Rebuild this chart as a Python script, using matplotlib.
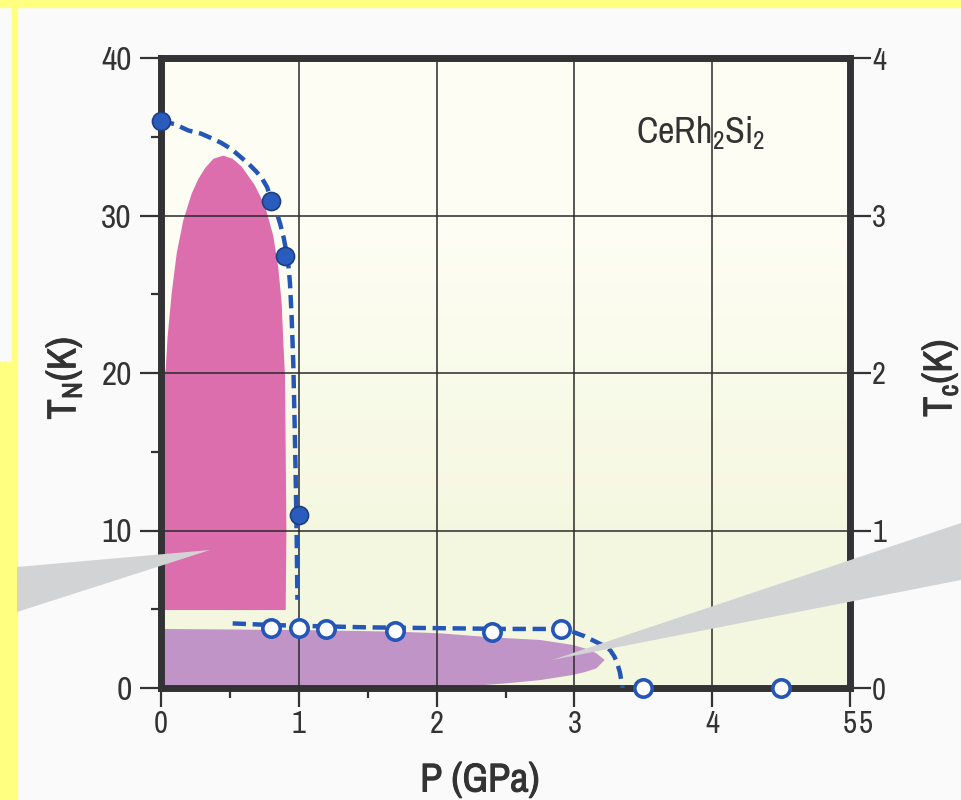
import numpy as np
import matplotlib
matplotlib.use('Agg')
import matplotlib.pyplot as plt
import matplotlib.patheffects as pe
from matplotlib import font_manager
from matplotlib.patches import Polygon, Rectangle

# DATA ########################################
# Neel temperature T_N (left axis, K)
tn_p = [0.0, 0.8, 0.9, 1.0]
tn_t = [36.0, 30.9, 27.4, 11.0]
# guide line for T_N
tn_line_p = [0.0, 0.10, 0.198, 0.29, 0.368, 0.44, 0.513, 0.58, 0.634, 0.69, 0.73, 0.77,
             0.80, 0.835, 0.864, 0.89, 0.912, 0.926, 0.936, 0.948, 0.96, 0.968,
             0.976, 0.984, 0.99]
tn_line_t = [36.0, 35.8, 35.4, 35.2, 34.9, 34.6, 34.2, 33.7, 33.3, 32.8, 32.4, 31.8,
             31.0, 30.3, 29.5, 28.6, 27.6, 26.7, 25.7, 23.6, 20.6, 17.5,
             14.0, 10.0, 5.6]

# superconducting T_c (right axis, K)
tc_p = [0.8, 1.0, 1.2, 1.7, 2.4, 2.9, 3.5, 4.5]
tc_t = [0.38, 0.38, 0.375, 0.36, 0.355, 0.375, 0.0, 0.0]
tc_line_p = [0.52, 0.8, 1.0, 1.5, 2.0, 2.5, 2.9, 2.99, 3.07, 3.14, 3.21, 3.26, 3.29,
             3.31, 3.33, 3.35]
tc_line_t = [0.41, 0.40, 0.395, 0.385, 0.38, 0.375, 0.375, 0.356, 0.33, 0.30, 0.27,
             0.24, 0.20, 0.16, 0.10, 0.0]

# shaded regions (P in GPa, T in K on left axis)
afm_p = [0.0, 0.0, 0.02, 0.034, 0.048, 0.078, 0.114, 0.162, 0.223, 0.27, 0.319, 0.38,
         0.452, 0.52, 0.586, 0.682, 0.755, 0.815, 0.851, 0.876, 0.888, 0.90, 0.91,
         0.905, 0.0]
afm_t = [4.95, 19.0, 19.8, 20.2, 22.3, 25.1, 27.6, 29.7, 31.4, 32.3, 33.0, 33.6,
         33.8, 33.6, 33.1, 31.9, 30.6, 28.7, 26.7, 24.4, 21.9, 19.8, 10.0,
         4.95, 4.95]
sc_p = [0.0, 1.0, 1.7, 2.03, 2.39, 2.75, 2.99, 3.10, 3.16, 3.22, 3.16, 3.08, 2.99,
        2.75, 2.51, 2.26, 2.0, 0.0]
sc_t = [3.75, 3.68, 3.58, 3.47, 3.22, 3.05, 2.73, 2.45, 2.2, 1.78, 1.25, 1.02, 0.83,
        0.5, 0.3, 0.13, 0.0, 0.0]

x_ticks = [0, 1, 2, 3, 4, 5]
x_ticklabels = ['0', '1', '2', '3', '4', '5']
yl_ticks = [0, 10, 20, 30, 40]
yr_ticks = [0, 1, 2, 3, 4]
compound = 'CeRh$_2$Si$_2$'

# STYLE ########################################
# look for a narrow face, the slide uses a condensed grotesque
names = sorted({f.name for f in font_manager.fontManager.ttflist})
narrow = [n for n in names if 'Narrow' in n or 'Condensed' in n]
main_font = narrow[0] if narrow else 'DejaVu Sans'

plt.rcParams['font.family'] = [main_font, 'DejaVu Sans']
plt.rcParams['font.stretch'] = 'condensed'
plt.rcParams['mathtext.fontset'] = 'custom'
plt.rcParams['mathtext.rm'] = main_font
plt.rcParams['mathtext.bf'] = main_font + ':bold'
plt.rcParams['mathtext.default'] = 'regular'

yellow = '#ffff80'
panel = '#fafafa'
wedge = '#d2d3d5'
frame = '#333335'
txt = '#333333'
blue = '#2456b8'
magenta = '#dc6eae'
purple = '#c094c6'

# slight extra weight for the axis titles
heavy = [pe.withStroke(linewidth=0.7, foreground=txt)]

W, H = 961, 800
fig = plt.figure(figsize=(W / 100, H / 100), dpi=100, facecolor=panel)

# yellow slide border pieces (figure pixels, y from top)
def px_rect(x0, y0, x1, y1, color):
    fig.patches.append(Rectangle((x0 / W, 1 - y1 / H), (x1 - x0) / W, (y1 - y0) / H,
                                 transform=fig.transFigure, color=color, zorder=0))

px_rect(0, 0, W, 7, yellow)
px_rect(12, 0, 17, 362, yellow)
px_rect(0, 362, 17, H, yellow)

ax = fig.add_axes([161 / W, 1 - 688 / H, (850 - 161) / W, (688 - 58) / H])
ax.set_xlim(0, 5)
ax.set_ylim(0, 40)

# faint gradient background of the plot area
bg = np.array([[[0.996, 0.996, 0.960]], [[0.960, 0.972, 0.880]]])
ax.imshow(bg, extent=[0, 5, 0, 40], aspect='auto', interpolation='bilinear',
          origin='upper', zorder=0)

ax.fill(afm_p, afm_t, color=magenta, lw=0, zorder=0.8)
ax.fill(sc_p, sc_t, color=purple, lw=0, zorder=0.8)

ax.grid(True, color='#2a2a2a', lw=1.1)
ax.set_axisbelow('line')

for s in ax.spines.values():
    s.set_linewidth(5)
    s.set_color(frame)

ax.set_xticks(x_ticks)
ax.set_xticklabels(x_ticklabels)
ax.set_xticks(np.arange(0.5, 5, 1.0), minor=True)
ax.set_yticks(yl_ticks)
ax.set_yticks([5, 15, 25, 35], minor=True)
ax.tick_params(axis='y', which='major', length=15, width=1.6, color=frame, pad=6,
               labelsize=24, labelcolor=txt)
ax.tick_params(axis='y', which='minor', length=7, width=1.6, color=frame)
ax.tick_params(axis='x', which='major', length=14, width=1.6, color=frame, pad=2,
               labelsize=22, labelcolor=txt)
ax.tick_params(axis='x', which='minor', length=7, width=1.6, color=frame)
# the slide shows a doubled "5" at the end of the pressure axis
ax.annotate('5', xy=(5, 0), xycoords='data', xytext=(6, -16), textcoords='offset points',
            ha='left', va='top', fontsize=22, color=txt, annotation_clip=False)

ax.plot(tn_line_p, tn_line_t, color=blue, lw=3.2, dashes=(3.0, 1.5), zorder=4,
        dash_capstyle='butt')
ax.plot(tn_p, tn_t, 'o', ms=13, mfc='#2a5cbd', mec='#1d3f7e', mew=1.2, zorder=6,
        clip_on=False)

ax.text(3.45, 35.3, compound, fontsize=26, color=txt, ha='left', va='center')

# right axis for T_c
ax2 = ax.twinx()
ax2.set_ylim(0, 4)
ax2.set_yticks(yr_ticks)
for s in ax2.spines.values():
    s.set_visible(False)
ax2.tick_params(axis='y', which='major', length=15, width=1.6, color=frame, pad=1,
                labelsize=22, labelcolor=txt)
ax2.plot(tc_line_p, tc_line_t, color=blue, lw=3.2, dashes=(3.0, 1.5), zorder=4,
         dash_capstyle='butt')
ax2.plot(tc_p, tc_t, 'o', ms=12.5, mfc='white', mec=blue, mew=2.6, zorder=6,
         clip_on=False)

# grey pointer wedges of the slide, in figure pixels
def px_poly(pts, color, z):
    xy = [(x / W, 1 - y / H) for x, y in pts]
    fig.patches.append(Polygon(xy, closed=True, transform=fig.transFigure,
                               color=color, lw=0, zorder=z))

px_poly([(17, 567), (17, 612), (210, 550)], wedge, 3)
px_poly([(552, 660), (961, 523), (961, 580)], wedge, 3)

fig.text(64 / W, 1 - 378 / H, 'T$_N$(K)', rotation=90, ha='center', va='center',
         fontsize=29, fontweight='bold', color=txt, path_effects=heavy)
fig.text(940 / W, 1 - 378 / H, 'T$_c$(K)', rotation=90, ha='center', va='center',
         fontsize=29, fontweight='bold', color=txt, path_effects=heavy)
fig.text(480 / W, 1 - 780 / H, 'P (GPa)', ha='center', va='center',
         fontsize=29, fontweight='bold', color=txt, path_effects=heavy)

fig.savefig('out.png', dpi=100, facecolor=fig.get_facecolor())
